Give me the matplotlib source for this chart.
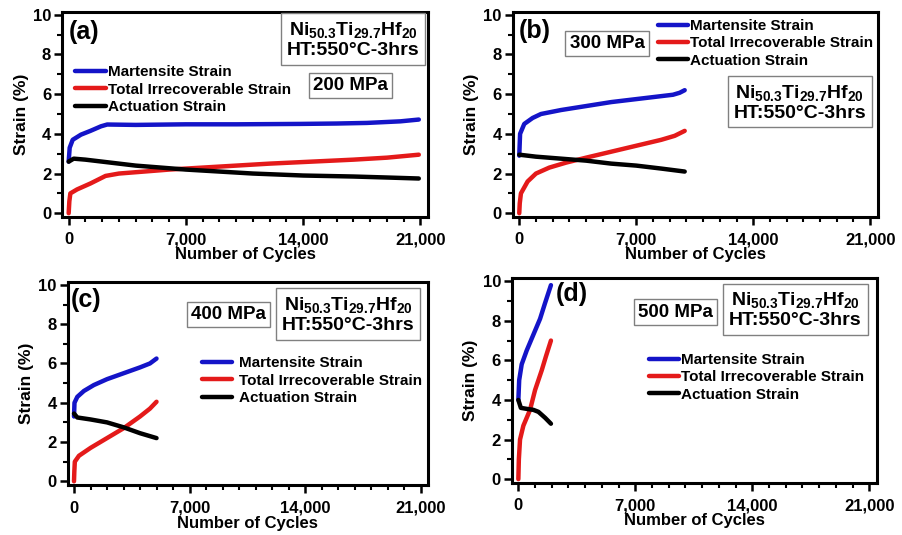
import matplotlib
matplotlib.use("Agg")
import matplotlib.pyplot as plt
from matplotlib.ticker import MultipleLocator, FuncFormatter

plt.rcParams["font.family"] = ["Liberation Sans", "DejaVu Sans"]
plt.rcParams["font.weight"] = "bold"
plt.rcParams["mathtext.fontset"] = "custom"
plt.rcParams["mathtext.rm"] = "Liberation Sans:bold"
plt.rcParams["mathtext.it"] = "Liberation Sans:bold"
plt.rcParams["mathtext.bf"] = "Liberation Sans:bold"

# ---- 200 MPa ----
a_mart_x = [0, 60, 240, 735, 1300, 1930, 2300, 4000, 7000, 10000, 13800, 16000, 17800, 19800, 20900]
a_mart_y = [2.6, 3.3, 3.7, 3.96, 4.15, 4.38, 4.47, 4.45, 4.48, 4.48, 4.5, 4.52, 4.55, 4.63, 4.72]
a_irr_x = [0, 40, 100, 500, 1300, 2200, 3000, 4500, 6000, 8000, 10000, 12000, 14500, 17000, 19000, 20900]
a_irr_y = [0.0, 0.6, 1.0, 1.2, 1.5, 1.88, 2.0, 2.1, 2.2, 2.3, 2.4, 2.5, 2.6, 2.7, 2.8, 2.95]
a_act_x = [0, 300, 1000, 2500, 4000, 5500, 7000, 9000, 11000, 14000, 17000, 19000, 20900]
a_act_y = [2.6, 2.75, 2.7, 2.55, 2.4, 2.3, 2.2, 2.1, 2.0, 1.9, 1.85, 1.8, 1.75]

# ---- 300 MPa ----
b_mart_x = [0, 50, 300, 800, 1300, 2500, 4000, 5500, 7000, 8500, 9200, 9600, 9900]
b_mart_y = [2.9, 4.0, 4.5, 4.8, 5.0, 5.2, 5.4, 5.6, 5.75, 5.9, 5.97, 6.07, 6.2]
b_irr_x = [0, 30, 100, 500, 1000, 1800, 2800, 4000, 5500, 7000, 8500, 9300, 9900]
b_irr_y = [0.0, 0.5, 1.0, 1.6, 2.0, 2.3, 2.55, 2.8, 3.1, 3.4, 3.7, 3.9, 4.15]
b_act_x = [0, 1000, 2500, 4000, 5500, 7000, 8500, 9900]
b_act_y = [2.95, 2.85, 2.75, 2.65, 2.5, 2.4, 2.25, 2.1]

# ---- 400 MPa ----
c_mart_x = [0, 30, 200, 600, 1200, 2000, 3000, 4000, 4600, 5000]
c_mart_y = [3.3, 4.0, 4.3, 4.6, 4.9, 5.2, 5.5, 5.8, 6.0, 6.25]
c_irr_x = [0, 20, 50, 300, 1000, 2000, 3000, 4000, 4600, 5000]
c_irr_y = [0.0, 0.5, 1.0, 1.3, 1.7, 2.2, 2.7, 3.3, 3.7, 4.05]
c_act_x = [0, 200, 1000, 2000, 3000, 4000, 5000]
c_act_y = [3.45, 3.25, 3.15, 3.0, 2.75, 2.45, 2.2]

# ---- 500 MPa ----
d_mart_x = [0, 50, 200, 500, 900, 1300, 1600, 1950]
d_mart_y = [4.0, 5.0, 5.8, 6.5, 7.3, 8.1, 8.9, 9.8]
d_irr_x = [0, 30, 100, 300, 700, 1000, 1400, 1650, 1950]
d_irr_y = [0.0, 1.0, 2.0, 2.7, 3.5, 4.5, 5.5, 6.2, 7.0]
d_act_x = [0, 150, 500, 900, 1200, 1600, 1950]
d_act_y = [4.0, 3.6, 3.55, 3.5, 3.4, 3.1, 2.8]

series_names = ["Martensite Strain", "Total Irrecoverable Strain", "Actuation Strain"]
series_colors = ["#1414c8", "#e41a1a", "#000000"]
loads = ["200 MPa", "300 MPa", "400 MPa", "500 MPa"]
panel_tags = ["(a)", "(b)", "(c)", "(d)"]
alloy = "Ni$_{50.3}$Ti$_{29.7}$Hf$_{20}$\nHT:550\u00b0C-3hrs"

panels = [
    [(a_mart_x, a_mart_y), (a_irr_x, a_irr_y), (a_act_x, a_act_y)],
    [(b_mart_x, b_mart_y), (b_irr_x, b_irr_y), (b_act_x, b_act_y)],
    [(c_mart_x, c_mart_y), (c_irr_x, c_irr_y), (c_act_x, c_act_y)],
    [(d_mart_x, d_mart_y), (d_irr_x, d_irr_y), (d_act_x, d_act_y)],
]

# axes rectangles in figure fraction
rects = [
    [0.069, 0.594, 0.405, 0.384],
    [0.568, 0.594, 0.404, 0.384],
    [0.075, 0.093, 0.399, 0.380],
    [0.567, 0.097, 0.404, 0.383],
]
# legend anchors (axes fraction) and handle-text gap
legend_pos = [(0.036, 0.74, 0.12), (0.397, 0.965, 0.12), (0.372, 0.635, 0.45), (0.375, 0.635, 0.12)]
# text positions in axes fraction: tag, load box, alloy box
tag_pos = [(0.06, 0.90), (0.06, 0.905), (0.05, 0.91), (0.165, 0.925)]
load_pos = [(0.787, 0.64), (0.258, 0.845), (0.447, 0.84), (0.447, 0.835)]
alloy_pos = [(0.795, 0.865), (0.786, 0.56), (0.778, 0.84), (0.777, 0.845)]

fig = plt.figure(figsize=(9.03, 5.35), dpi=100)
box = dict(boxstyle="square,pad=0.22", facecolor="white", edgecolor="#808080", linewidth=1.0)
box2 = dict(boxstyle="square,pad=0.3", facecolor="white", edgecolor="#808080", linewidth=1.0)

for i, data in enumerate(panels):
    ax = fig.add_axes(rects[i])
    for (xs, ys), name, col in zip(data, series_names, series_colors):
        ax.plot(xs, ys, color=col, lw=3.2, label=name, solid_capstyle="round")

    ax.set_xlim(-380, 21450)
    ax.set_ylim(-0.2, 10.15)
    ax.xaxis.set_major_locator(MultipleLocator(7000))
    ax.xaxis.set_minor_locator(MultipleLocator(1000))
    ax.yaxis.set_major_locator(MultipleLocator(2))
    ax.yaxis.set_minor_locator(MultipleLocator(1))
    ax.xaxis.set_major_formatter(FuncFormatter(lambda v, p: f"{int(v):,}"))
    ax.tick_params(which="major", direction="out", length=6, width=1.8, labelsize=12, pad=2)
    ax.tick_params(axis="x", which="major", pad=5)
    ax.tick_params(which="minor", direction="out", length=3.5, width=1.5)
    ax.tick_params(top=False, right=False)
    for s in ax.spines.values():
        s.set_linewidth(2.2)
    ax.set_xlabel("Number of Cycles", fontsize=12, fontweight="bold", labelpad=0)
    ax.set_ylabel("Strain (%)", fontsize=12.5, fontweight="bold", labelpad=3)

    lx, ly, gap = legend_pos[i]
    ax.legend(loc="upper left", bbox_to_anchor=(lx, ly), frameon=False, fontsize=11,
              handlelength=2.0, handletextpad=gap, labelspacing=0.22, borderpad=0, borderaxespad=0)

    ax.text(*tag_pos[i], panel_tags[i], transform=ax.transAxes, fontsize=18,
            fontweight="bold", ha="center", va="center")
    ax.text(*load_pos[i], loads[i], transform=ax.transAxes, fontsize=13.5,
            fontweight="bold", ha="center", va="center", bbox=box)
    ax.text(*alloy_pos[i], alloy, transform=ax.transAxes, fontsize=14,
            fontweight="bold", ha="center", va="center", linespacing=1.15, bbox=box2)

fig.savefig("out.png", dpi=100, facecolor="white")
